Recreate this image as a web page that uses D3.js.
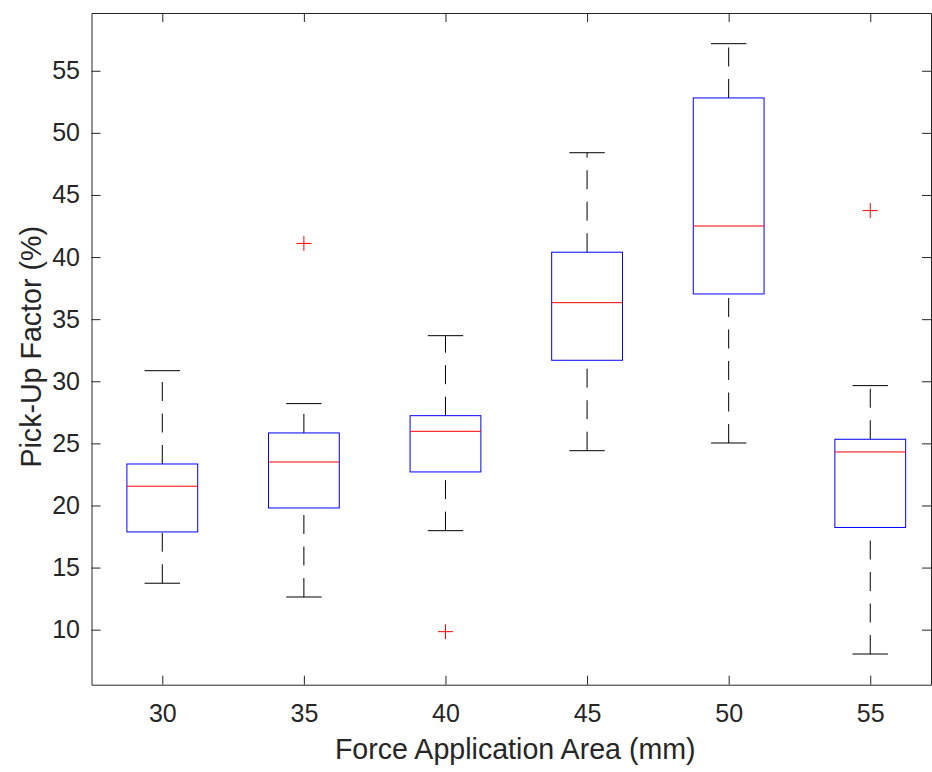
<!DOCTYPE html>
<html>
<head>
<meta charset="utf-8">
<script src="https://cdn.jsdelivr.net/npm/d3@7"></script>
<style>
  html, body { margin: 0; padding: 0; background: #fff; }
  svg { display: block; }
  .axis text { font-family: "Liberation Sans", Arial, Helvetica, sans-serif; fill: #262626; }
  .axis path, .axis line { stroke: #262626; }
</style>
</head>
<body>
<svg id="chart" width="932" height="772"></svg>
<script>
// Force application areas (mm) and box-plot summary per group (Pick-Up Factor, %)
const categories    = [30, 35, 40, 45, 50, 55];
const lowerWhisker  = [13.74, 12.63, 17.97, 24.41, 25.03, 8.04];
const quartile1     = [17.87, 19.80, 22.70, 31.69, 37.03, 18.23];
const medians       = [21.55, 23.50, 25.97, 36.33, 42.50, 24.31];
const quartile3     = [23.34, 25.84, 27.23, 40.39, 52.81, 25.33];
const upperWhisker  = [30.85, 28.20, 33.67, 48.40, 57.18, 29.65];
const outliers      = [[], [41.10], [9.84], [], [], [43.74]];
const yTicks        = [10, 15, 20, 25, 30, 35, 40, 45, 50, 55];

const svg = d3.select("#chart");
const plotLeft = 91.5, plotRight = 931, plotTop = 13, plotBottom = 684.7;

// Groups sit at integer positions 0..5
const x = d3.scaleLinear().domain([-0.5, 5.429]).range([plotLeft, plotRight]);
const y = d3.scaleLinear().domain([5.57, 59.65]).range([plotBottom, plotTop]);

const boxHalf = 0.25, capHalf = 0.125;
const fontTick = 25, fontLabel = 28.6;

// Axes (box style with inward ticks on all four sides)
const gx = svg.append("g").attr("class", "axis")
  .attr("transform", `translate(0,${plotBottom})`)
  .call(d3.axisBottom(x).tickValues(d3.range(categories.length))
    .tickFormat(i => categories[i]).tickSizeInner(-9).tickSizeOuter(0).tickPadding(20));
gx.selectAll("text").attr("font-size", fontTick).attr("dy", "0.71em");

svg.append("g").attr("class", "axis")
  .attr("transform", `translate(0,${plotTop})`)
  .call(d3.axisTop(x).tickValues(d3.range(categories.length))
    .tickFormat("").tickSizeInner(-9).tickSizeOuter(0));

const gy = svg.append("g").attr("class", "axis")
  .attr("transform", `translate(${plotLeft},0)`)
  .call(d3.axisLeft(y).tickValues(yTicks).tickSizeInner(-9).tickSizeOuter(0).tickPadding(11.5));
gy.selectAll("text").attr("font-size", fontTick);

svg.append("g").attr("class", "axis")
  .attr("transform", `translate(${plotRight},0)`)
  .call(d3.axisRight(y).tickValues(yTicks).tickFormat("").tickSizeInner(-9).tickSizeOuter(0));

svg.selectAll(".axis .domain").attr("stroke-width", 1);
svg.selectAll(".axis line").attr("stroke-width", 1);

// Axis titles
svg.append("text")
  .attr("x", (plotLeft + plotRight) / 2 + 4).attr("y", 759)
  .attr("text-anchor", "middle")
  .attr("font-family", "Liberation Sans, Arial, Helvetica, sans-serif")
  .attr("font-size", fontLabel).attr("fill", "#262626")
  .text("Force Application Area (mm)");

svg.append("text")
  .attr("transform", `translate(41,${(plotTop + plotBottom) / 2 - 2}) rotate(-90)`)
  .attr("text-anchor", "middle")
  .attr("font-family", "Liberation Sans, Arial, Helvetica, sans-serif")
  .attr("font-size", fontLabel).attr("fill", "#262626")
  .text("Pick-Up Factor (%)");

// Box plots
const plot = svg.append("g");
categories.forEach((c, i) => {
  const g = plot.append("g");
  // whiskers: drawn from the lower value upward, dashed
  g.append("line")
    .attr("x1", x(i)).attr("x2", x(i))
    .attr("y1", y(quartile3[i])).attr("y2", y(upperWhisker[i]))
    .attr("stroke", "#000").attr("stroke-width", 1).attr("stroke-dasharray", "19,12.5");
  g.append("line")
    .attr("x1", x(i)).attr("x2", x(i))
    .attr("y1", y(lowerWhisker[i])).attr("y2", y(quartile1[i]))
    .attr("stroke", "#000").attr("stroke-width", 1).attr("stroke-dasharray", "19,12.5");
  // caps
  [upperWhisker[i], lowerWhisker[i]].forEach(v => {
    g.append("line")
      .attr("x1", x(i - capHalf)).attr("x2", x(i + capHalf))
      .attr("y1", y(v)).attr("y2", y(v))
      .attr("stroke", "#000").attr("stroke-width", 1);
  });
  // box
  g.append("rect")
    .attr("x", x(i - boxHalf)).attr("y", y(quartile3[i]))
    .attr("width", x(i + boxHalf) - x(i - boxHalf))
    .attr("height", y(quartile1[i]) - y(quartile3[i]))
    .attr("fill", "none").attr("stroke", "#0000ff").attr("stroke-width", 1);
  // median
  g.append("line")
    .attr("x1", x(i - boxHalf)).attr("x2", x(i + boxHalf))
    .attr("y1", y(medians[i])).attr("y2", y(medians[i]))
    .attr("stroke", "#ff0000").attr("stroke-width", 1);
  // outliers as '+' markers
  outliers[i].forEach(v => {
    const cx = x(i), cy = y(v), s = 7.5;
    g.append("path")
      .attr("d", `M${cx - s},${cy}H${cx + s}M${cx},${cy - s}V${cy + s}`)
      .attr("stroke", "#ff0000").attr("stroke-width", 1).attr("fill", "none");
  });
});
</script>
</body>
</html>
